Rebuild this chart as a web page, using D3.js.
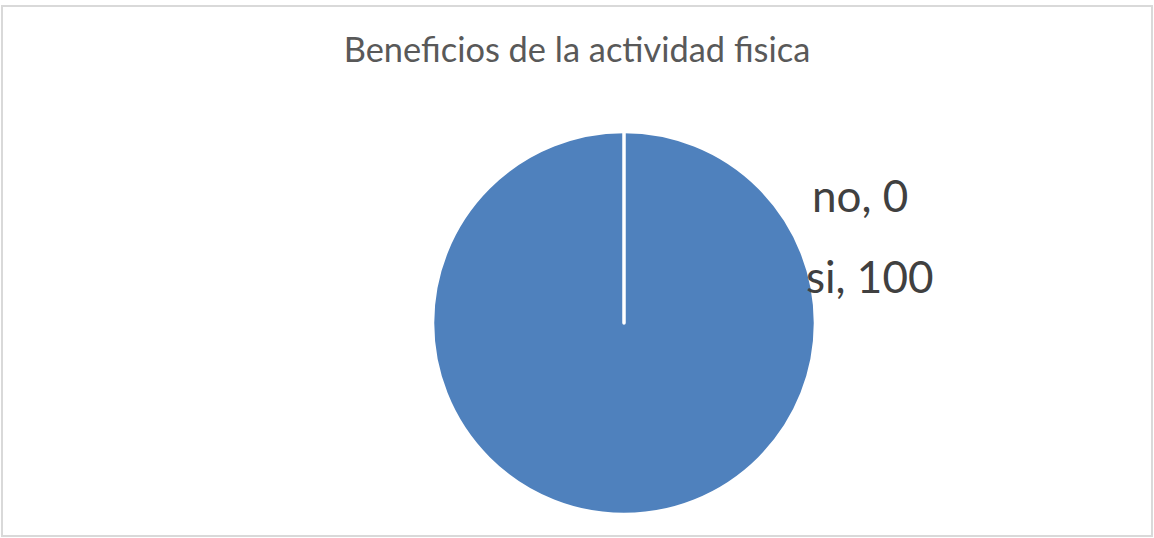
<!DOCTYPE html>
<html>
<head>
<meta charset="utf-8">
<script src="https://cdn.jsdelivr.net/npm/d3@7"></script>
<style>
  html, body { margin: 0; padding: 0; background: #fff; }
  svg { display: block; }
</style>
</head>
<body>
<svg id="chart" width="1154" height="538"></svg>
<script>
// Survey answers: "¿Conoce los beneficios de la actividad física?"
const categories = ["no", "si"];
const values = [0, 100];
const title = "Beneficios de la actividad fisica";

const width = 1154, height = 538;
const svg = d3.select("#chart");

// chart frame
svg.append("rect")
  .attr("x", 2).attr("y", 6)
  .attr("width", width - 4).attr("height", height - 8)
  .attr("fill", "#fff")
  .attr("stroke", "#d9d9d9")
  .attr("stroke-width", 2);

svg.append("text")
  .attr("x", 577).attr("y", 62)
  .attr("text-anchor", "middle")
  .attr("font-family", "Lato, 'Open Sans', sans-serif")
  .attr("font-size", 34.4)
  .attr("fill", "#595959")
  .text(title);

const cx = 624, cy = 323, r = 191.5;
const data = categories.map((c, i) => ({ category: c, value: values[i] }));

const pie = d3.pie().sort(null).value(d => d.value);
const arc = d3.arc().innerRadius(0).outerRadius(r);
const color = d3.scaleOrdinal().domain(categories).range(["#c0504d", "#4f81bd"]);

const g = svg.append("g").attr("transform", `translate(${cx},${cy})`);
const arcs = pie(data);

// slice fills
g.selectAll("path.fill")
  .data(arcs)
  .join("path")
  .attr("class", "fill")
  .attr("d", arc)
  .attr("fill", d => color(d.data.category));

// slice borders on top, so the empty "no" slice still shows as a line
g.selectAll("path.edge")
  .data(arcs)
  .join("path")
  .attr("class", "edge")
  .attr("d", arc)
  .attr("fill", "none")
  .attr("stroke", "#fff")
  .attr("stroke-width", 3.5)
  .attr("stroke-linejoin", "round");

// data labels "categoría, valor" to the right of the pie
const labelPos = { no: [812, 212], si: [806, 293] };
svg.selectAll("text.lbl")
  .data(arcs)
  .join("text")
  .attr("class", "lbl")
  .attr("x", d => labelPos[d.data.category][0])
  .attr("y", d => labelPos[d.data.category][1])
  .attr("font-family", "Lato, 'Open Sans', sans-serif")
  .attr("font-size", 44)
  .attr("fill", "#404040")
  .text(d => `${d.data.category}, ${d.data.value}`);
</script>
</body>
</html>
